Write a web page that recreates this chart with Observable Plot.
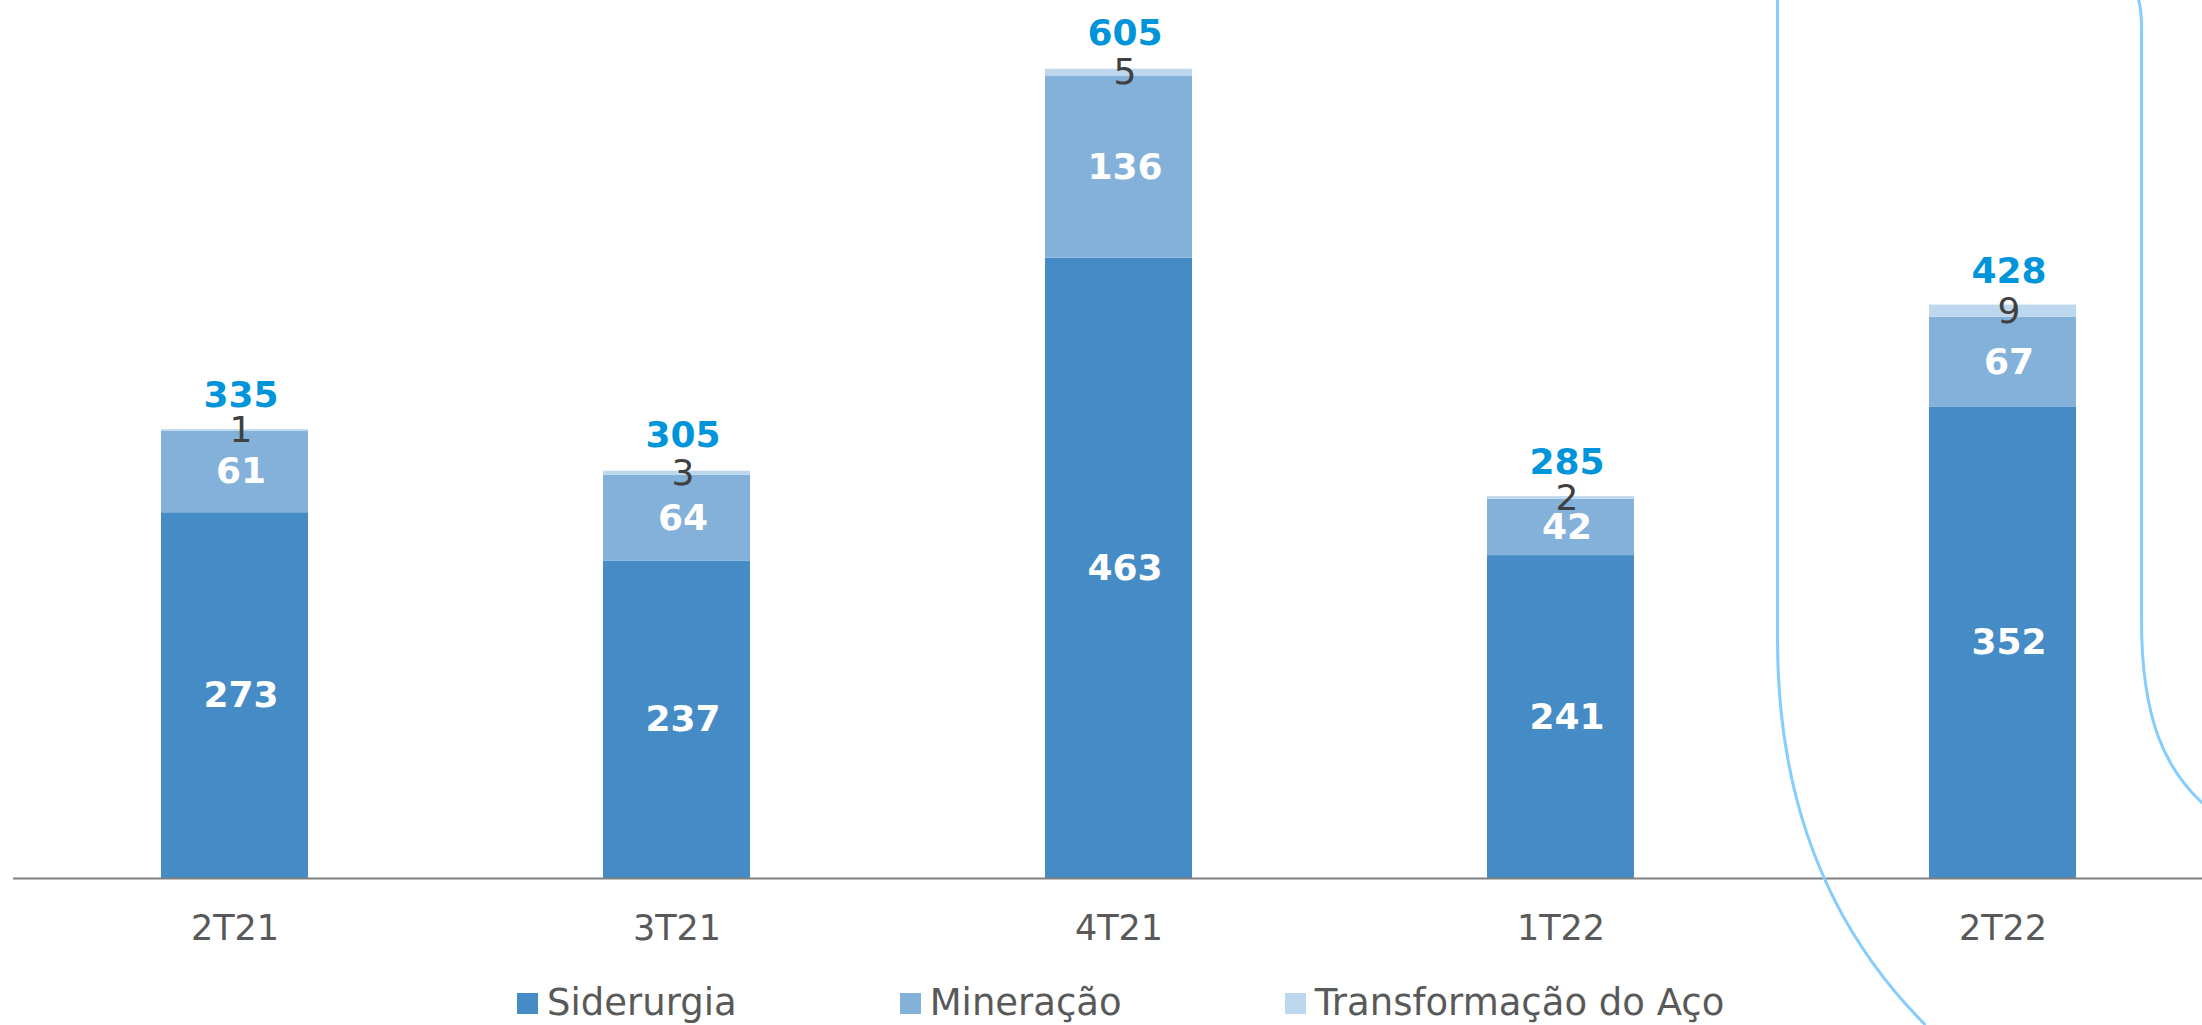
<!DOCTYPE html>
<html>
<head>
<meta charset="utf-8">
<script src="https://cdn.jsdelivr.net/npm/d3@7"></script>
<script src="https://cdn.jsdelivr.net/npm/@observablehq/plot@0.6"></script>
<style>
  html, body { margin: 0; padding: 0; background: #fff; }
  #wrap { position: relative; width: 2202px; height: 1025px; overflow: hidden; font-family: "DejaVu Sans", Verdana, sans-serif; }
  #chart { position: absolute; left: 0; top: 0; }
  #legend { position: absolute; left: 517px; top: 981px; height: 44px; display: flex; align-items: center; gap: 163px; font-size: 37px; color: #595959; white-space: nowrap; }
  .item { display: flex; align-items: center; line-height: 44px; }
  .sw { width: 21px; height: 21px; margin-right: 9px; display: inline-block; }
  #deco { position: absolute; left: 0; top: 0; pointer-events: none; }
</style>
</head>
<body>
<div id="wrap">
  <div id="chart"></div>
  <div id="legend"></div>
  <svg id="deco" width="2202" height="1025"></svg>
</div>
<script>
// ---- Data ----
const quarters = ["2T21", "3T21", "4T21", "1T22", "2T22"];
const series = ["Siderurgia", "Mineração", "Transformação do Aço"];
const siderurgia = [273, 237, 463, 241, 352];
const mineracao = [61, 64, 136, 42, 67];
const transformacao = [1, 3, 5, 2, 9];
const totals = [335, 305, 605, 285, 428];
const highlighted = "2T22";

const colors = ["#458BC6", "#84B1DA", "#BDD7EE"];

// ---- Build stacked table ----
const values = [siderurgia, mineracao, transformacao];
const rows = [];
quarters.forEach((q, i) => {
  let base = 0;
  series.forEach((s, k) => {
    const v = values[k][i];
    rows.push({q, serie: s, v, y1: base, y2: base + v, mid: base + v / 2, k});
    base += v;
  });
});
const totalRows = quarters.map((q, i) => ({q, total: totals[i]}));

const font = "DejaVu Sans, Verdana, sans-serif";

const chart = Plot.plot({
  width: 2202,
  height: 960,
  marginLeft: 13,
  marginRight: 0,
  marginTop: 0,
  marginBottom: 82,
  style: {fontFamily: font, color: "#595959", background: "transparent", overflow: "visible"},
  x: {type: "band", domain: quarters, range: [13.5, 2223.5], paddingInner: 0.667, paddingOuter: 0.3335, label: null},
  y: {domain: [0, 605], range: [878, 67.4], axis: null},
  color: {domain: series, range: colors},
  marks: [
    Plot.barY(rows, {x: "q", y1: "y1", y2: "y2", fill: "serie", inset: 0}),
    Plot.ruleY([0], {stroke: "#808080", strokeWidth: 2}),
    Plot.axisX({tickSize: 0, tickPadding: 37, fontSize: 35, fill: "#595959", label: null}),
    Plot.text(rows.filter(d => d.k < 2), {x: "q", y: "mid", text: d => String(d.v), dx: 6, fill: "#fff", fontSize: 36, fontWeight: "bold"}),
    Plot.text(rows.filter(d => d.k === 2), {x: "q", y: "mid", text: d => String(d.v), dx: 6, fill: "#404040", fontSize: 36}),
    Plot.text(totalRows, {x: "q", y: "total", text: d => String(d.total), dx: 6, dy: -34, fill: "#0095DB", fontSize: 36, fontWeight: "bold"})
  ]
});
document.getElementById("chart").appendChild(chart);

// ---- Legend ----
const legend = document.getElementById("legend");
series.forEach((s, k) => {
  const it = document.createElement("div");
  it.className = "item";
  const sw = document.createElement("span");
  sw.className = "sw";
  sw.style.background = colors[k];
  const t = document.createElement("span");
  t.textContent = s;
  it.appendChild(sw);
  it.appendChild(t);
  legend.appendChild(it);
});

// ---- Highlight frame around the latest quarter (decorative) ----
const xs = chart.scale("x");
const cx = xs.apply(highlighted) + xs.bandwidth / 2;
const deco = d3.select("#deco");
const leftPath = d3.path();
leftPath.moveTo(cx - 225, 0);
leftPath.lineTo(cx - 225, 640);
leftPath.bezierCurveTo(cx - 225, 820, cx - 162, 940, cx - 77, 1025);
const rightPath = d3.path();
rightPath.moveTo(cx + 136, 0);
rightPath.quadraticCurveTo(cx + 139, 8, cx + 139, 30);
rightPath.lineTo(cx + 139, 620);
rightPath.bezierCurveTo(cx + 139, 720, cx + 163, 770, cx + 202, 805);
[leftPath, rightPath].forEach(p => {
  deco.append("path").attr("d", p.toString()).attr("fill", "none").attr("stroke", "#86CDFF").attr("stroke-width", 3);
});
</script>
</body>
</html>
